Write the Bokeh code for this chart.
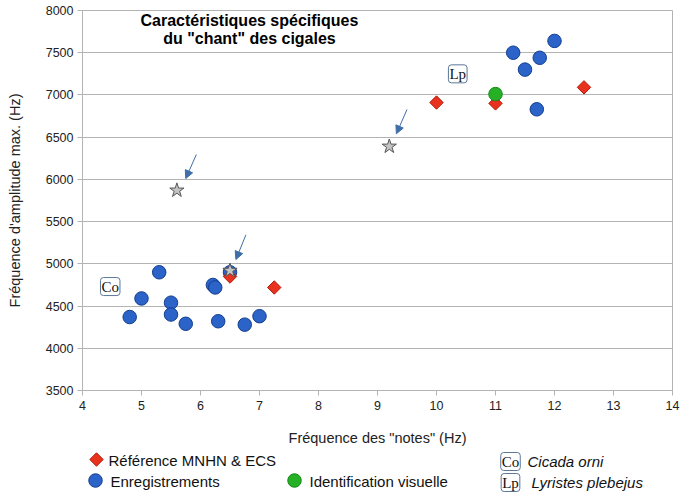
from bokeh.plotting import figure
from bokeh.models import Range1d, Label, Arrow, NormalHead, FixedTicker, ColumnDataSource
from bokeh.layouts import column
from bokeh.embed import file_html
from bokeh.resources import INLINE
import numpy as np

# ---------------- data ----------------
blue_x = [4.8, 5.0, 5.3, 5.5, 5.5, 5.75, 6.21, 6.25, 6.3, 6.5, 6.75, 7.0,
          11.3, 12.0, 11.75, 11.5, 11.7]
blue_y = [4370, 4590, 4900, 4540, 4400, 4290, 4750, 4720, 4320, 4900, 4280, 4380,
          7500, 7640, 7440, 7300, 6830]

red_x = [6.5, 7.25, 10.0, 11.0, 12.5]
red_y = [4850, 4720, 6910, 6900, 7090]

green_x = [11.0]
green_y = [7010]

star_x = [5.6, 6.5, 9.2]
star_y = [5870, 4920, 6390]

arrow_x0 = [5.93, 6.77, 9.5]
arrow_y0 = [6295, 5344, 6828]
arrow_x1 = [5.75, 6.6, 9.32]
arrow_y1 = [6010, 5051, 6540]

species_codes = ["Co", "Lp"]
species_names = ["Cicada orni", "Lyristes plebejus"]
species_x = [4.47, 10.36]
species_y = [4731, 7250]

x_ticks = list(range(4, 15))
y_ticks = list(range(3500, 8001, 500))

title_lines = ["Caractéristiques spécifiques", 'du "chant" des cigales']
x_label = 'Fréquence des "notes" (Hz)'
y_label = "Fréquence d'amplitude max. (Hz)"
legend_labels = ["Référence MNHN & ECS", "Enregistrements", "Identification visuelle"]

# ---------------- styles ----------------
FONT = "Liberation Sans"
SERIF = "Liberation Serif"
GRID = "#b3b3b3"
BLUE_FILL, BLUE_LINE = "#2b63c9", "#123e8e"
RED_FILL, RED_LINE = "#e8321e", "#b31a0c"
GREEN_FILL, GREEN_LINE = "#25b025", "#138a13"
STAR_FILL, STAR_LINE = "#c4c4c4", "#555555"
ARROW_C = "#3f6ea8"
BOX_C = "#5b7899"

W = 688
LEFT, RIGHT = 82, 16

p = figure(width=W, height=448, output_backend="svg", toolbar_location=None,
           x_range=Range1d(4, 14), y_range=Range1d(3500, 8000),
           min_border_left=LEFT, min_border_right=RIGHT, min_border_top=10,
           min_border_bottom=58)
p.background_fill_color = "white"
p.border_fill_color = "white"
p.outline_line_color = GRID
p.xgrid.grid_line_color = None
p.ygrid.grid_line_color = GRID

p.xaxis.ticker = FixedTicker(ticks=x_ticks)
p.yaxis.ticker = FixedTicker(ticks=y_ticks)
for ax in (p.xaxis[0], p.yaxis[0]):
    ax.axis_line_color = GRID
    ax.major_tick_line_color = GRID
    ax.major_tick_out = 5
    ax.major_tick_in = 0
    ax.minor_tick_line_color = None
    ax.major_label_text_font = FONT
    ax.major_label_text_font_size = "12.5px"
    ax.major_label_text_color = "#222222"
    ax.axis_label_text_font = FONT
    ax.axis_label_text_font_size = "14.5px"
    ax.axis_label_text_font_style = "normal"
    ax.axis_label_text_color = "#222222"
p.xaxis.axis_label = x_label
p.yaxis.axis_label = y_label
p.xaxis.major_label_standoff = 5
p.yaxis.major_label_standoff = 4
p.xaxis.axis_label_standoff = 17
p.yaxis.axis_label_standoff = 20

# glyphs
p.scatter(blue_x, blue_y, marker="circle", size=13.5, fill_color=BLUE_FILL,
          line_color=BLUE_LINE, line_width=1)
p.scatter(red_x, red_y, marker="square", angle=np.pi / 4, size=9.5,
          fill_color=RED_FILL, line_color=RED_LINE, line_width=1)
p.scatter(green_x, green_y, marker="circle", size=13.5, fill_color=GREEN_FILL,
          line_color=GREEN_LINE, line_width=1)
p.scatter(star_x, star_y, marker="star", size=15, fill_color=STAR_FILL,
          line_color=STAR_LINE, line_width=1)

arrow_src = ColumnDataSource(dict(x0=arrow_x0, y0=arrow_y0, x1=arrow_x1, y1=arrow_y1))
p.add_layout(Arrow(end=NormalHead(size=8, fill_color=ARROW_C, line_color=ARROW_C),
                   x_start="x0", y_start="y0", x_end="x1", y_end="y1",
                   source=arrow_src, line_color=ARROW_C, line_width=1))

for code, sx, sy in zip(species_codes, species_x, species_y):
    p.add_layout(Label(x=sx, y=sy, text=code, text_align="center",
                       text_baseline="middle", text_font=SERIF,
                       text_font_size="15px", text_color="#111111",
                       border_line_color=BOX_C, border_line_width=1,
                       background_fill_color="white", padding=1,
                       border_radius=3))

title_x = 6.83
title_y = [7882, 7668]
for t, ty in zip(title_lines, title_y):
    p.add_layout(Label(x=title_x, y=ty, text=t, text_align="center",
                       text_baseline="middle", text_font=FONT,
                       text_font_style="bold", text_font_size="16px",
                       text_color="#000000"))

# ---------------- legend strip (data units = page pixels) ----------------
leg = figure(width=W, height=46, output_backend="svg", toolbar_location=None,
             x_range=Range1d(LEFT, W - RIGHT), y_range=Range1d(494, 448),
             x_axis_location=None, y_axis_location=None,
             min_border_left=LEFT, min_border_right=RIGHT,
             min_border_top=0, min_border_bottom=0)
leg.outline_line_color = None
leg.grid.grid_line_color = None
leg.border_fill_color = "white"

leg.scatter([96], [459], marker="square", angle=np.pi / 4, size=9.5,
            fill_color=RED_FILL, line_color=RED_LINE, line_width=1)
leg.scatter([95], [480], marker="circle", size=13.5, fill_color=BLUE_FILL,
            line_color=BLUE_LINE, line_width=1)
leg.scatter([294], [480], marker="circle", size=13.5, fill_color=GREEN_FILL,
            line_color=GREEN_LINE, line_width=1)

for txt, lx, ly in zip(legend_labels, [108, 110, 309], [460, 481, 481]):
    leg.add_layout(Label(x=lx, y=ly, text=txt, text_align="left",
                         text_baseline="middle", text_font=FONT,
                         text_font_size="15px", text_color="#111111"))

for code, name, ly, nx in zip(species_codes, species_names, [461, 482], [527, 531]):
    leg.add_layout(Label(x=510, y=ly, text=code, text_align="center",
                         text_baseline="middle", text_font=SERIF,
                         text_font_size="15px", text_color="#111111",
                         border_line_color=BOX_C, border_line_width=1,
                         background_fill_color="white", padding=1,
                         border_radius=3))
    leg.add_layout(Label(x=nx, y=ly, text=name, text_align="left",
                         text_baseline="middle", text_font=FONT,
                         text_font_style="italic", text_font_size="15px",
                         text_color="#111111"))

layout = column(p, leg, spacing=0)
open("out.html", "w").write(file_html(layout, INLINE))
